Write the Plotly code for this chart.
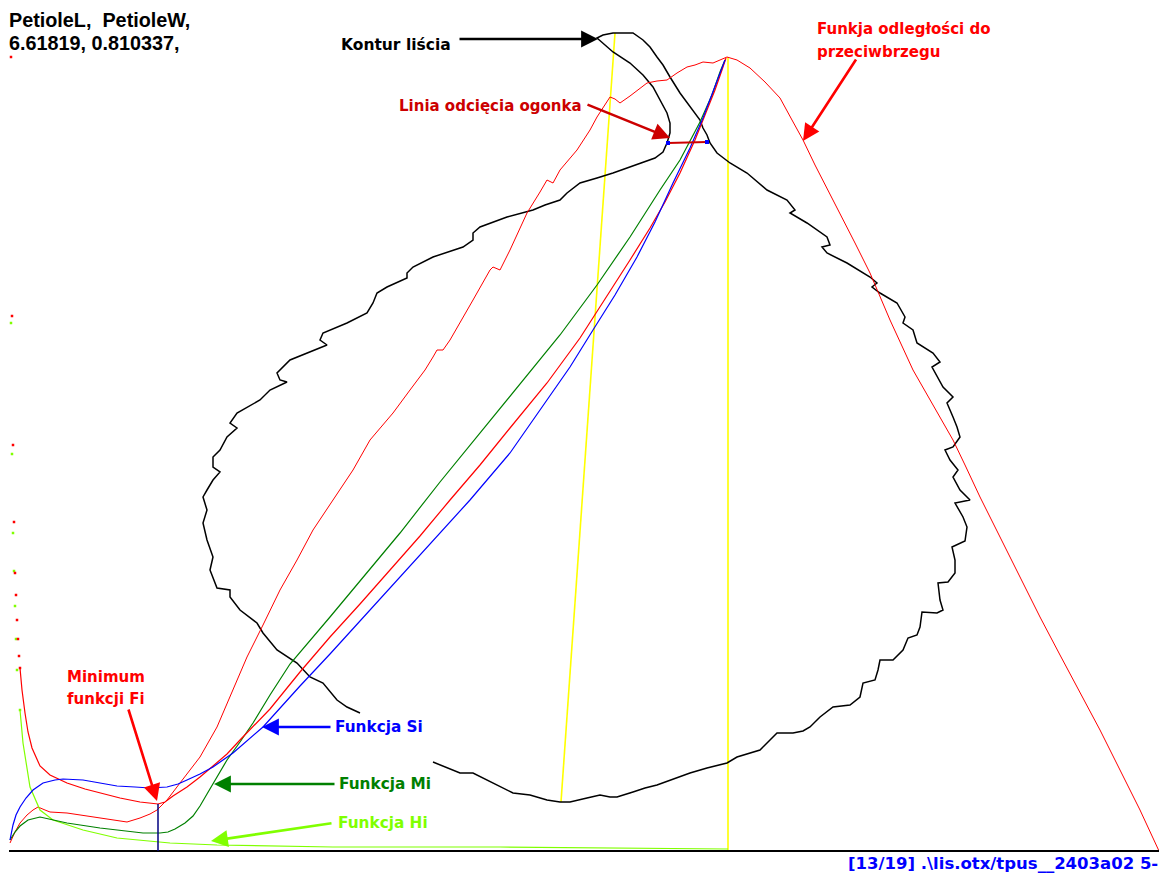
import plotly.graph_objects as go

# Screen-space drawing: x grows to the right, y grows downward (pixel rows).
BASE_Y = 851  # row of the horizontal axis line

# Fi function (red), minimum marked near x=158
fi_x = [11, 12, 13, 14, 15, 16, 17, 18, 19, 20, 22, 25, 28, 32, 40, 50, 67, 85, 100, 120, 140, 158,
        165, 173, 187, 200, 213, 227, 240, 253, 270, 300, 330, 360, 387, 420, 450, 480, 510, 547,
        580, 610, 630, 650, 665, 680, 695, 705, 715, 722, 726]
fi_y = [57, 316, 445, 522, 573, 595, 620, 639, 656, 668, 690, 713, 732, 748, 766, 775, 783, 789, 793,
        798, 802, 804, 802, 796, 787, 777, 766, 754, 740, 727, 709, 672, 637, 604, 573, 536, 500, 465,
        428, 383, 338, 292, 260, 228, 202, 173, 140, 115, 90, 70, 58]

# Si function (blue)
si_x = [10, 13, 16, 20, 26, 33, 43, 55, 63, 83, 100, 117, 135, 150, 167, 178, 187, 200, 213, 233,
        263, 300, 330, 360, 400, 430, 470, 510, 547, 570, 593, 615, 637, 655, 673, 690, 703, 713, 720, 725]
si_y = [840, 825, 815, 807, 798, 790, 783, 780, 779, 780, 783, 786, 787, 788, 787, 784, 780, 774, 767,
        753, 727, 686, 654, 621, 577, 545, 500, 453, 400, 367, 330, 295, 257, 222, 183, 148, 118, 92, 72, 60]

# Mi function (green)
mi_x = [10, 15, 20, 28, 40, 50, 67, 100, 130, 143, 160, 168, 175, 185, 193, 200, 207, 217, 227, 240,
        253, 270, 290, 330, 367, 400, 440, 470, 513, 560, 597, 630, 660, 680, 700, 712, 720, 725]
mi_y = [840, 832, 826, 820, 817, 819, 823, 828, 831, 833, 833, 832, 829, 823, 816, 806, 794, 777, 760,
        742, 723, 695, 664, 617, 573, 533, 482, 445, 393, 335, 285, 237, 190, 160, 122, 95, 72, 60]

# Hi function (light green)
hi_x = [11, 12, 13, 14, 15, 16, 17, 20, 23, 30, 40, 53, 83, 117, 158, 170, 217, 333, 500, 728]
hi_y = [323, 454, 533, 571, 606, 639, 670, 710, 743, 787, 810, 820, 830, 838, 842, 843, 845, 847, 847, 849]

# Distance-to-opposite-edge function (red)
dist_x = [10, 15, 20, 27, 33, 38, 45, 50, 67, 80, 93, 110, 127, 140, 150, 157, 167, 180, 200, 217,
          233, 247, 263, 280, 297, 313, 333, 353, 370, 393, 410, 425, 433, 437, 443, 450, 473, 490,
          493, 500, 510, 527, 540, 547, 553, 560, 577, 590, 597, 605, 610, 615, 620, 630, 647, 657,
          667, 677, 687, 695, 703, 713, 720, 727, 737, 750, 765, 780, 792, 803, 815, 828, 840, 855,
          870, 890, 913, 933, 953, 965, 980, 1000, 1020, 1040, 1060, 1080, 1100, 1120, 1140, 1159]
dist_y = [843, 832, 823, 815, 810, 807, 810, 812, 813, 815, 817, 819, 822, 818, 814, 810, 800, 783,
          757, 727, 690, 657, 625, 590, 560, 530, 500, 470, 440, 413, 390, 370, 357, 350, 350, 340,
          300, 270, 267, 270, 250, 213, 192, 180, 183, 170, 150, 130, 117, 105, 97, 99, 103, 96, 83,
          81, 80, 73, 67, 65, 62, 63, 60, 57, 60, 68, 82, 98, 120, 140, 165, 190, 213, 243, 273, 320,
          370, 405, 440, 465, 497, 537, 577, 617, 655, 693, 730, 770, 810, 851]

# Leaf outline (black), traced from the lower left, round the blade, up the petiole and back
leaf_x = [433, 447, 460, 473, 483, 493, 503, 513, 530, 547, 560, 570, 587, 600, 610, 617, 633, 645,
          657, 673, 690, 707, 727, 737, 750, 760, 770, 777, 793, 803, 810, 820, 833, 850, 860, 863,
          875, 878, 880, 893, 903, 908, 917, 920, 922, 937, 943, 940, 938, 948, 955, 955, 952, 965,
          967, 963, 955, 970, 960, 953, 958, 950, 945, 953, 960, 957, 953, 947, 953, 943, 932, 940,
          933, 917, 913, 903, 905, 897, 880, 872, 877, 870, 847, 827, 822, 830, 827, 807, 790, 795,
          787, 767, 747, 730, 717, 710, 707, 703, 700, 690, 680, 670, 663, 657, 650, 643, 633, 613,
          603, 597, 603, 613, 630, 643, 653, 660, 667, 670, 670, 667, 663, 655, 647, 630, 613, 597,
          580, 567, 560, 545, 533, 507, 480, 473, 473, 463, 433, 413, 407, 407, 387, 377, 373, 367,
          347, 323, 320, 327, 290, 277, 280, 287, 270, 260, 237, 230, 237, 227, 220, 213, 213, 220,
          213, 207, 203, 207, 203, 207, 213, 210, 217, 230, 230, 240, 257, 263, 277, 297, 310, 323,
          337, 347, 360]
leaf_y = [762, 768, 773, 773, 778, 783, 788, 793, 795, 800, 802, 802, 798, 795, 797, 797, 792, 788,
          785, 779, 773, 768, 763, 757, 753, 750, 740, 733, 733, 731, 727, 717, 707, 705, 697, 683,
          680, 670, 660, 660, 650, 638, 635, 627, 612, 613, 610, 600, 583, 582, 573, 560, 547, 541,
          527, 517, 503, 500, 490, 477, 470, 460, 450, 447, 437, 427, 417, 403, 397, 387, 367, 362,
          353, 343, 330, 323, 317, 303, 293, 287, 283, 277, 263, 253, 247, 245, 237, 223, 213, 210,
          200, 190, 173, 163, 153, 143, 135, 128, 120, 107, 93, 77, 65, 57, 47, 40, 33, 33,
          35, 38, 43, 52, 63, 75, 87, 100, 113, 123, 133, 143, 152, 158, 161, 167, 173, 178,
          183, 193, 200, 205, 210, 217, 227, 233, 240, 247, 257, 267, 273, 278, 287, 293, 303, 313,
          323, 333, 340, 345, 360, 373, 380, 382, 390, 400, 413, 423, 428, 437, 450, 457, 467, 472,
          480, 490, 497, 510, 523, 540, 557, 570, 588, 590, 597, 610, 623, 633, 650, 663, 677, 683,
          700, 707, 713]

# Petiole cut line end points
cut_x = [668, 707]
cut_y = [143, 142]

# Position of the Fi minimum
fi_min_x = 158
fi_min_y = 804

# Yellow guide lines
guide1_x = [615, 561]
guide1_y = [33, 802]
guide2_x = [728, 728]
guide2_y = [57, BASE_Y]

# number of leading samples that are drawn as isolated dots (steep start)
FI_DOTS = 10
HI_DOTS = 8

RED = "#FF0000"
BLUE = "#0000FF"
GREEN = "#008000"
LIME = "#80FF00"

fig = go.Figure()


def add_line(xs, ys, color, width=1.0):
    fig.add_trace(go.Scatter(x=xs, y=ys, mode="lines", line=dict(color=color, width=width),
                             hoverinfo="skip", showlegend=False))


def add_dots(xs, ys, color, size=2.5):
    fig.add_trace(go.Scatter(x=xs, y=ys, mode="markers",
                             marker=dict(color=color, size=size, symbol="square", line=dict(width=0)),
                             hoverinfo="skip", showlegend=False))


add_line(guide1_x, guide1_y, "#FFFF00", 1.6)
add_line(guide2_x, guide2_y, "#FFFF00", 1.6)
add_line(leaf_x, leaf_y, "#000000", 1.5)
add_line(dist_x, dist_y, RED, 1.0)
add_dots(hi_x[:HI_DOTS], hi_y[:HI_DOTS], LIME)
add_line(hi_x[HI_DOTS - 1:], hi_y[HI_DOTS - 1:], LIME, 1.2)
add_line(mi_x, mi_y, GREEN, 1.2)
add_dots(fi_x[:FI_DOTS], fi_y[:FI_DOTS], RED)
add_line(fi_x[FI_DOTS - 1:], fi_y[FI_DOTS - 1:], RED, 1.2)
add_line(si_x, si_y, BLUE, 1.2)
add_line([9, 1159], [BASE_Y, BASE_Y], "#000000", 2)
add_line([fi_min_x, fi_min_x], [fi_min_y, BASE_Y], "#000080", 1.5)
add_line(cut_x, cut_y, "#CC0000", 2)
add_dots(cut_x, cut_y, BLUE, 4)

LABEL_FONT = "DejaVu Sans"


def label(text, x, y, color, size=15, anchor="left", family=LABEL_FONT):
    fig.add_annotation(x=x, y=y, xref="x", yref="y", text=text, showarrow=False,
                       xanchor=anchor, yanchor="middle", borderpad=0,
                       font=dict(family=family, size=size, color=color))


def arrow(x0, y0, x1, y1, color):
    fig.add_annotation(x=x1, y=y1, ax=x0, ay=y0, xref="x", yref="y", axref="x", ayref="y",
                       text="", showarrow=True, arrowhead=2, arrowsize=1.3, arrowwidth=2.6,
                       arrowcolor=color, standoff=0, startstandoff=0)


# Header values
label("<b>PetioleL,&nbsp; PetioleW,</b>", 8, 20, "#000000", 19.8, family="Liberation Sans")
label("<b>6.61819, 0.810337,</b>", 8, 43, "#000000", 19.8, family="Liberation Sans")

label("<b>Kontur liścia</b>", 340, 45, "#000000", 15.5)
arrow(458, 39, 598, 39, "#000000")

label("<b>Linia odcięcia ogonka</b>", 398, 106, "#CC0000", 15)
arrow(586, 104, 670, 138, "#CC0000")

label("<b>Funkja odległości do</b>", 816, 29, RED, 15)
label("<b>przeciwbrzegu</b>", 816, 52, RED, 15)
arrow(857, 58, 803, 141, RED)

label("<b>Minimum</b>", 106, 677, RED, 15, anchor="center")
label("<b>funkcji Fi</b>", 106, 699, RED, 15, anchor="center")
arrow(128, 708, 157, 801, RED)

label("<b>Funkcja Si</b>", 334, 727, BLUE, 15.3)
arrow(332, 727, 262, 727, BLUE)

label("<b>Funkcja Mi</b>", 338, 784, GREEN, 15.3)
arrow(336, 784, 214, 784, GREEN)

label("<b>Funkcja Hi</b>", 337, 823, LIME, 15.3)
arrow(333, 823, 211, 841, LIME)

label("<b>[13/19] .\\lis.otx/tpus__2403a02 5-</b>", 847, 863, BLUE, 16.5, family="DejaVu Sans")

fig.update_layout(
    width=1159, height=874,
    margin=dict(l=0, r=0, t=0, b=0),
    paper_bgcolor="white", plot_bgcolor="white",
    showlegend=False,
    xaxis=dict(range=[0, 1159], visible=False, fixedrange=True),
    yaxis=dict(range=[874, 0], visible=False, fixedrange=True),
)

fig.write_html("out.html")
